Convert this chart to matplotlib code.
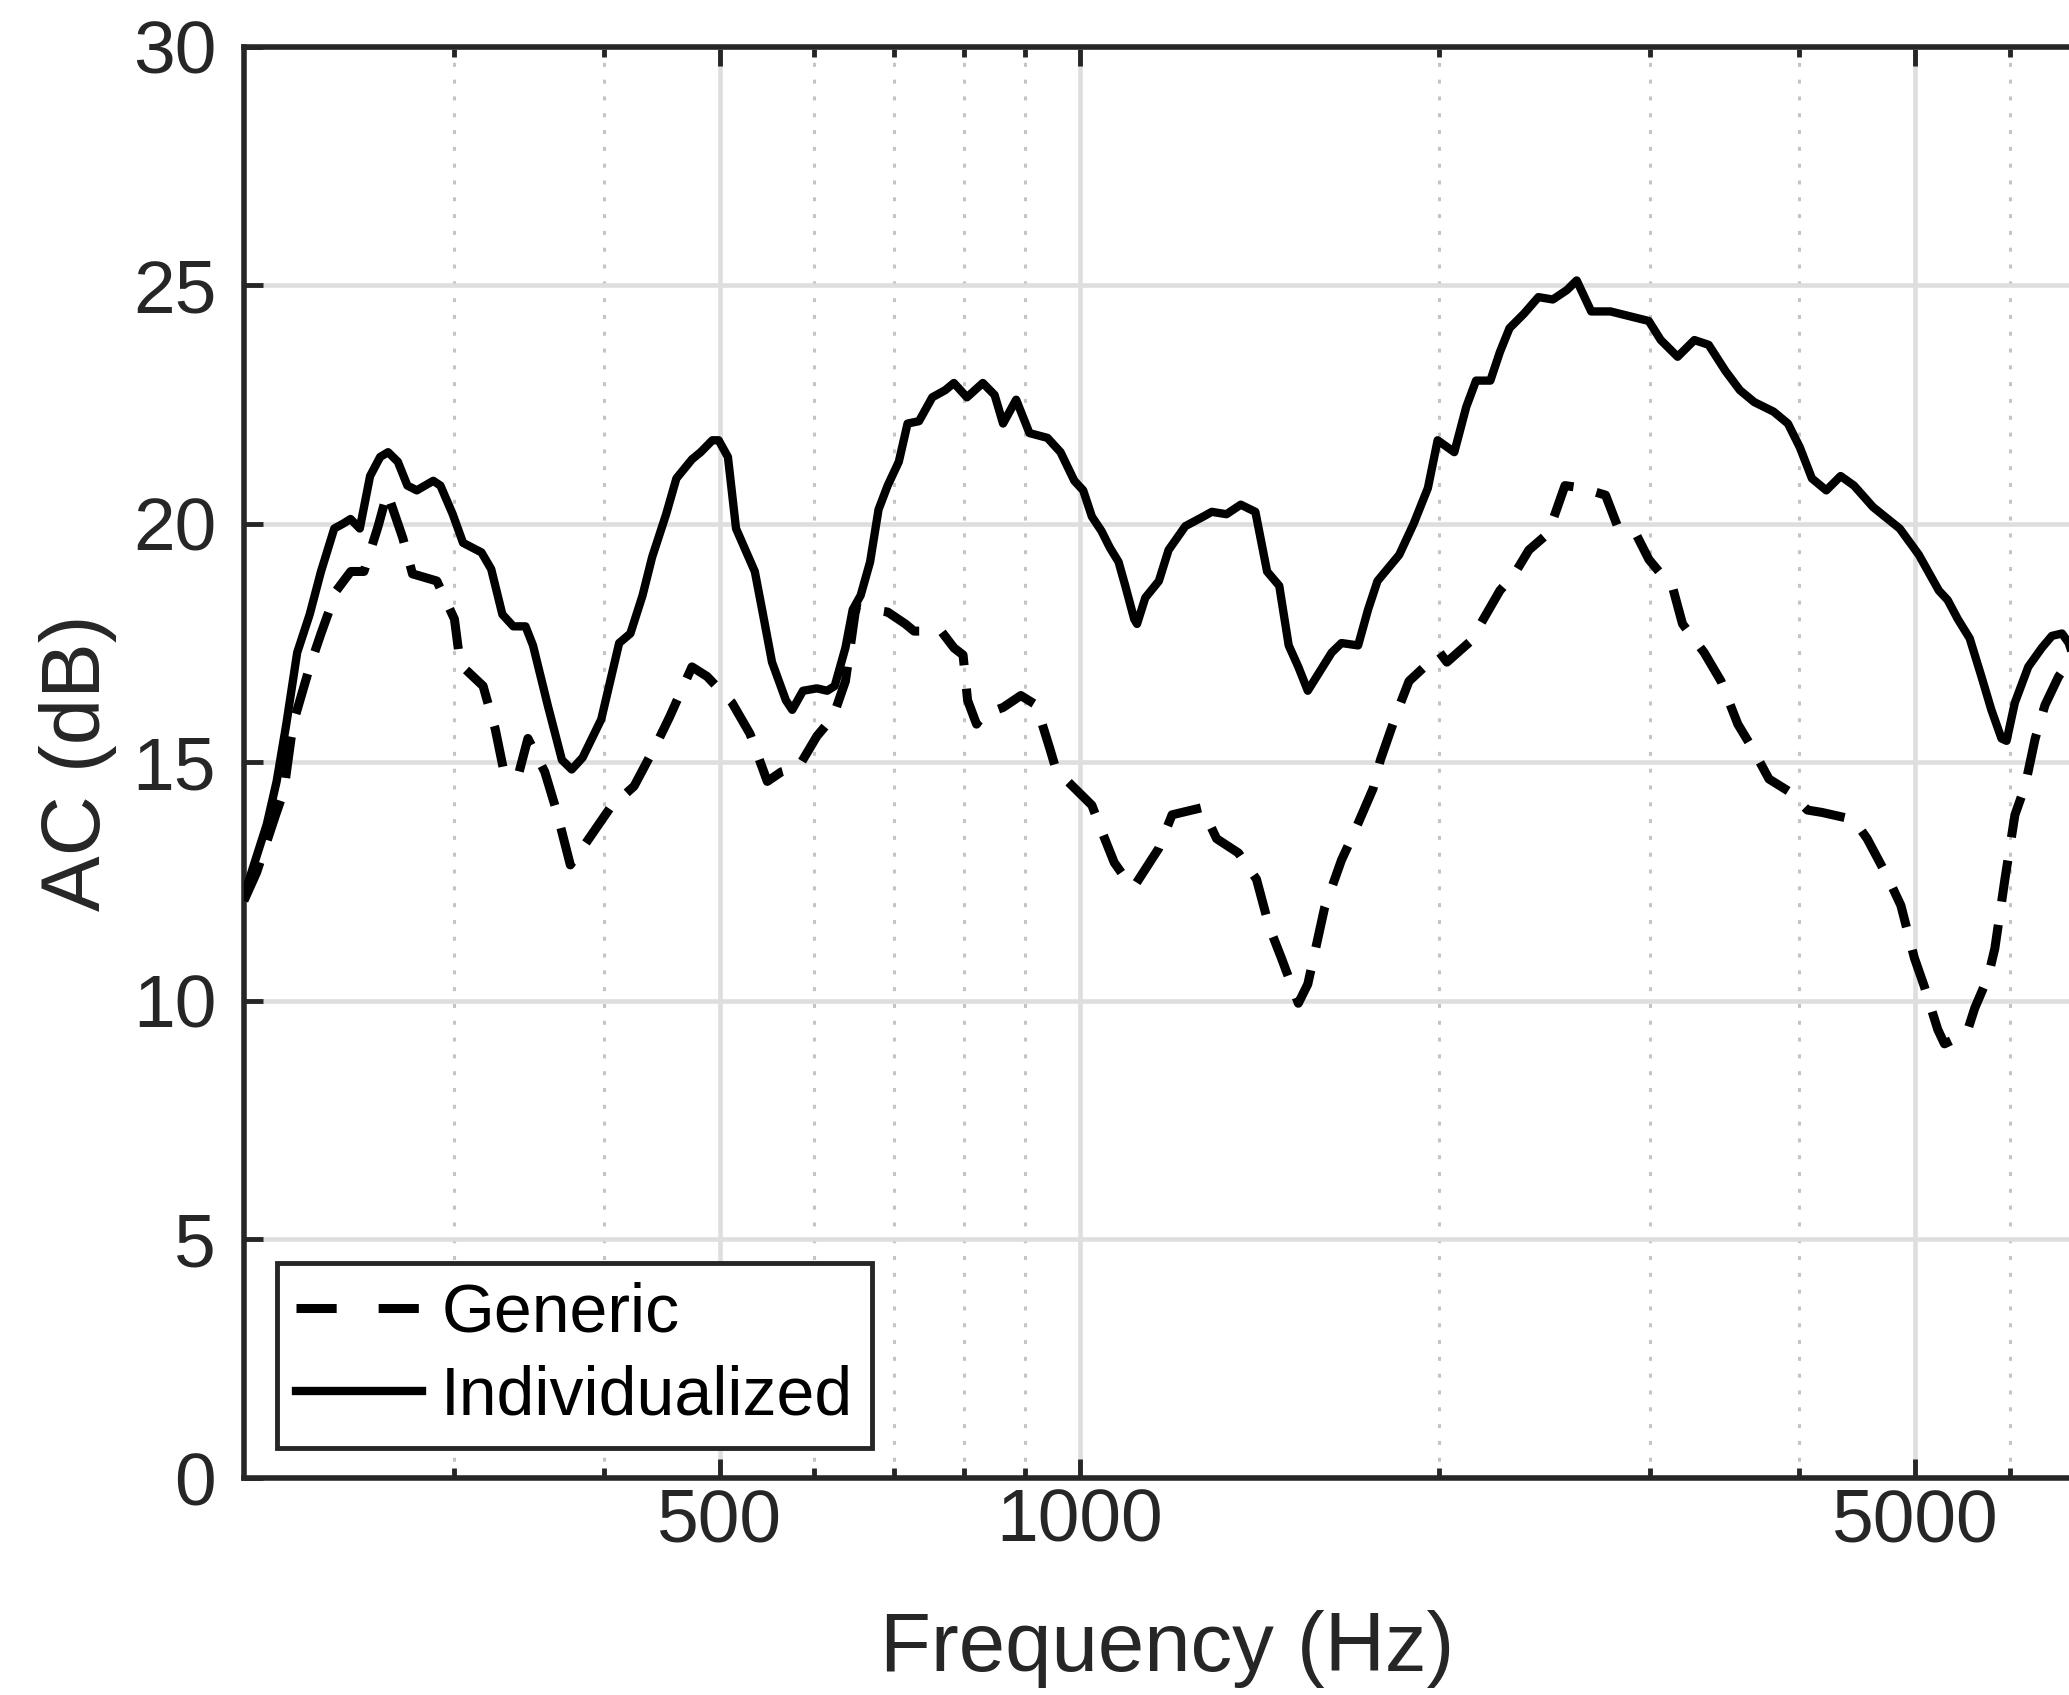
import numpy as np
import matplotlib.pyplot as plt
from matplotlib.ticker import FixedLocator, NullFormatter

plt.rcParams['font.family'] = ['Liberation Sans', 'DejaVu Sans']

# Individualized (solid) - frequency in Hz, AC in dB
freq_ind = [200, 209, 213, 217, 221.6, 227, 232, 238, 242, 245.6, 250, 255, 260, 264,
            269, 274, 279, 288, 292, 299, 305, 316, 322, 329, 336, 344, 349, 359, 369,
            376, 384, 398, 412, 421, 431, 439, 451, 460, 474, 482, 493, 499, 508, 516,
            535, 544, 553, 568, 575, 587, 603, 615, 624, 637, 646, 656, 668, 679, 691,
            706, 718, 734, 753, 772, 785, 805, 830, 849, 863, 885, 908, 940, 964, 990,
            1007, 1024, 1043, 1060, 1078, 1092, 1111, 1117, 1135, 1165, 1187, 1226,
            1269, 1290, 1327, 1364, 1403, 1435, 1469, 1496, 1524, 1552, 1588, 1625,
            1656, 1710, 1743, 1775, 1851, 1903, 1956, 1993, 2058, 2106, 2146, 2206,
            2247, 2289, 2353, 2420, 2488, 2557, 2605, 2679, 2780, 2884, 2993, 3063,
            3164, 3268, 3359, 3470, 3567, 3667, 3806, 3913, 4004, 4098, 4213, 4331,
            4444, 4610, 4853, 5035, 5233, 5323, 5428, 5553, 5680, 5790, 5904, 5962,
            6058, 6216, 6381, 6506, 6634, 6720, 6800]
ac_ind = [12.2, 13.7, 14.6, 15.8, 17.3, 18.1, 19.0, 19.9, 20.0, 20.1, 19.9, 21.0, 21.4, 21.5,
          21.3, 20.8, 20.7, 20.9, 20.8, 20.2, 19.6, 19.4, 19.05, 18.1, 17.85, 17.85, 17.45, 16.2, 15.05,
          14.85, 15.1, 15.9, 17.5, 17.7, 18.5, 19.3, 20.2, 20.95, 21.35, 21.5, 21.75, 21.75, 21.4, 19.9,
          19.0, 18.05, 17.1, 16.3, 16.1, 16.5, 16.55, 16.5, 16.6, 17.4, 18.2, 18.5, 19.2, 20.3, 20.8,
          21.3, 22.1, 22.15, 22.65, 22.8, 22.95, 22.65, 22.95, 22.7, 22.1, 22.6, 21.9, 21.8, 21.5, 20.9,
          20.7, 20.15, 19.85, 19.5, 19.2, 18.7, 18.0, 17.9, 18.45, 18.8, 19.45, 19.95,
          20.15, 20.25, 20.2, 20.4, 20.25, 19.0, 18.7, 17.45, 17.0, 16.5, 16.9, 17.3,
          17.5, 17.45, 18.2, 18.8, 19.35, 20.0, 20.75, 21.75, 21.5, 22.45, 23.0, 23.0,
          23.6, 24.1, 24.4, 24.75, 24.7, 24.9, 25.1, 24.45, 24.45, 24.35, 24.25, 23.85,
          23.5, 23.85, 23.75, 23.2, 22.8, 22.55, 22.35, 22.1, 21.6, 20.95, 20.7, 21.0,
          20.8, 20.35, 19.9, 19.35, 18.6, 18.4, 18.0, 17.6, 16.8, 16.1, 15.5, 15.45,
          16.25, 17.0, 17.4, 17.65, 17.7, 17.5, 17.1]

# Generic (dashed)
freq_gen = [200, 205, 212.6, 216, 219, 221, 227, 232, 239, 245.7, 252, 259, 263.6, 271.6,
            276.7, 290, 300, 303.4, 317, 324.5, 329.4, 339, 345.6, 357, 365, 375, 385,
            405, 424, 443, 454, 474, 488, 512, 530, 548, 563, 582, 603, 622, 637, 650,
            691, 715, 727, 766, 785, 799, 806, 820, 831, 863, 893, 920, 944, 957, 973,
            1024, 1042, 1069, 1090, 1111, 1165, 1195, 1266, 1302, 1358, 1406, 1441,
            1475, 1524, 1552, 1603, 1656, 1695, 1760, 1785, 1843, 1886, 2001, 2029,
            2126, 2165, 2247, 2311, 2376, 2466, 2547, 2630, 2754, 2818, 2925, 2994,
            3135, 3194, 3330, 3440, 3553, 3653, 3773, 3915, 4063, 4178, 4442, 4558,
            4740, 4864, 4992, 5089, 5222, 5290, 5394, 5534, 5608, 5753, 5829, 5943,
            6059, 6178, 6300, 6420, 6591, 6722, 6800]
ac_gen = [12.1, 12.7, 13.9, 14.4, 15.5, 16.0, 17.0, 17.7, 18.6, 19.0, 19.0, 19.95, 20.65, 19.7,
          18.95, 18.8, 18.0, 17.05, 16.6, 15.7, 14.9, 14.7, 15.5, 14.8, 14.0, 12.85, 13.25,
          14.05, 14.5, 15.4, 15.95, 17.0, 16.8, 16.25, 15.6, 14.6, 14.8, 14.9, 15.55, 15.95, 16.7, 18.25,
          18.15, 17.9, 17.75, 17.75, 17.4, 17.25, 16.3, 15.8, 16.0, 16.15, 16.4, 16.2, 15.3, 14.8, 14.65,
          14.1, 13.6, 12.9, 12.6, 12.4, 13.2, 13.9, 14.05, 13.4, 13.1, 12.55, 11.55,
          10.9, 9.95, 10.35, 11.95, 12.95, 13.5, 14.45, 15.05, 16.05, 16.7, 17.3, 17.1,
          17.55, 17.9, 18.6, 18.95, 19.45, 19.8, 20.8, 20.75, 20.6, 19.95, 19.75, 19.25,
          18.65, 17.9, 17.3, 16.7, 15.8, 15.3, 14.65, 14.4, 14.0, 13.95, 13.8, 13.4,
          12.6, 12.0, 10.9, 10.3, 9.4, 9.1, 9.2, 9.4, 9.85, 10.5, 11.1, 12.55,
          13.9, 14.5, 15.5, 16.2, 16.8, 17.1, 17.15]

xticks = [500, 1000, 5000]
xminor = [300, 400, 600, 700, 800, 900, 2000, 3000, 4000, 6000]
yticks = [0, 5, 10, 15, 20, 25, 30]

dark = '#262626'

fig = plt.figure(figsize=(20.69, 16.95), dpi=100)
# the right side of the axes runs slightly past the figure edge (cropped original)
ax = fig.add_axes([0.1179, 0.128, 0.8922, 0.8445])

ax.semilogx(freq_gen, ac_gen, color='k', lw=6.5, dashes=(4.6, 2.6),
            dash_capstyle='butt', label='Generic', zorder=3)
ax.semilogx(freq_ind, ac_ind, color='k', lw=6.0, label='Individualized', zorder=3)

ax.set_xlim(200, 7000)
ax.set_ylim(0, 30)
ax.xaxis.set_major_locator(FixedLocator(xticks))
ax.xaxis.set_minor_locator(FixedLocator(xminor))
ax.set_xticklabels([str(t) for t in xticks])
ax.xaxis.set_minor_formatter(NullFormatter())
ax.set_yticks(yticks)

ax.set_axisbelow(True)
ax.grid(which='major', color='#dedede', lw=3.3)
ax.grid(which='minor', axis='x', color='#c4c4c4', lw=2.2, linestyle=(0, (1.3, 4.2)))

ax.tick_params(which='both', direction='in', top=True, right=True,
               width=3.5, color=dark, labelcolor=dark, labelsize=54)
ax.tick_params(which='major', length=14)
ax.tick_params(which='minor', length=7)
ax.tick_params(axis='x', pad=7)
ax.tick_params(axis='y', pad=20)
for s in ax.spines.values():
    s.set_linewidth(4)
    s.set_color(dark)

ax.set_xlabel('Frequency (Hz)', fontsize=60, color=dark, labelpad=38)
ax.set_ylabel('AC (dB)', fontsize=60, color=dark, labelpad=11)

leg = ax.legend(loc='lower left', bbox_to_anchor=(0.018, 0.021), borderaxespad=0,
                fontsize=49, handlelength=1.85, handletextpad=0.28, labelspacing=0.28,
                borderpad=0.28, fancybox=False, framealpha=1, edgecolor=dark)
leg.get_frame().set_linewidth(3.5)
leg.get_lines()[0].set_dashes((4.45, 4.65))
for t in leg.get_texts():
    t.set_color('k')

fig.savefig('out.png', dpi=100)
